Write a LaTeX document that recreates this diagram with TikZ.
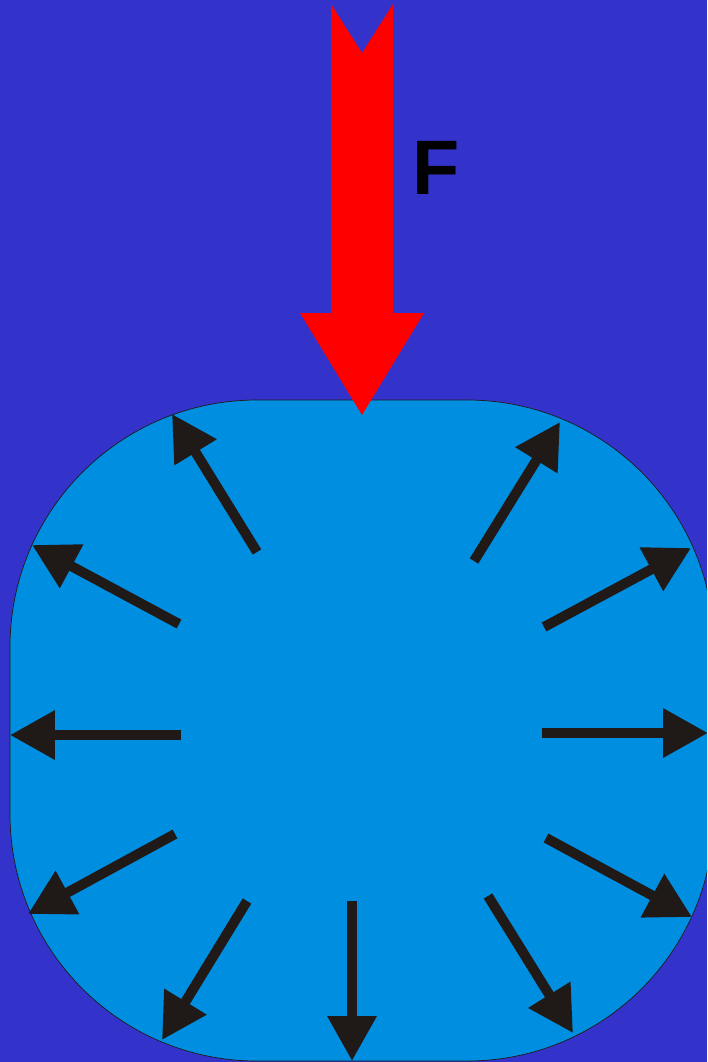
\documentclass[tikz,border=0pt]{standalone}
\usepackage{fontspec}
\setsansfont{Liberation Sans}
\usetikzlibrary{arrows.meta}
\definecolor{bgblue}{HTML}{3333CC}
\definecolor{fluid}{HTML}{008EE0}
\definecolor{inkblk}{HTML}{1F1A17}
\definecolor{forcered}{HTML}{FF0000}

\begin{document}
\begin{tikzpicture}[
  x=0.02cm, y=-0.02cm,
  pres/.style={-{Triangle[length=9mm, width=9.4mm]}, line width=2mm, draw=inkblk, fill=inkblk},
  vessel/.style={fill=fluid, draw=inkblk, line width=0.4pt, rounded corners=4.94cm},
  force/.style={fill=forcered, draw=none},
  lbl/.style={font=\sffamily\bfseries\fontsize{44}{44}\selectfont, text=black, inner sep=0pt},
]
% ---- frame ----
\useasboundingbox (0,0) rectangle (707,1062);
\clip (0,0) rectangle (707,1062);
\fill[bgblue] (0,0) rectangle (707,1062);

% ---- fluid body ----
\draw[vessel] (10,400) rectangle (714,1061);

% ---- applied force ----
\fill[force] (331,4) -- (362,53) -- (393,4) -- (393,313) -- (424,313)
  -- (362,415) -- (300,313) -- (331,313) -- cycle;
\node[lbl] (F) at (436,168) {F};

% ---- pressure arrows: tails (t) and heads (h) ----
\coordinate (t1)  at (257,552);  \coordinate (h1)  at (172,414);
\coordinate (t2)  at (179,624);  \coordinate (h2)  at (32,545);
\coordinate (t3)  at (181,735);  \coordinate (h3)  at (10,735);
\coordinate (t4)  at (175,834);  \coordinate (h4)  at (28,914);
\coordinate (t5)  at (247,901);  \coordinate (h5)  at (162,1040);
\coordinate (t6)  at (352,901);  \coordinate (h6)  at (352,1061);
\coordinate (t7)  at (488,896);  \coordinate (h7)  at (573,1033);
\coordinate (t8)  at (546,838);  \coordinate (h8)  at (692,917);
\coordinate (t9)  at (542,733);  \coordinate (h9)  at (708,733);
\coordinate (t10) at (544,627);  \coordinate (h10) at (691,548);
\coordinate (t11) at (474,561);  \coordinate (h11) at (560,422);

\foreach \i in {1,...,11}{
  \draw[pres] (t\i) -- (h\i);
}
\end{tikzpicture}
\end{document}
